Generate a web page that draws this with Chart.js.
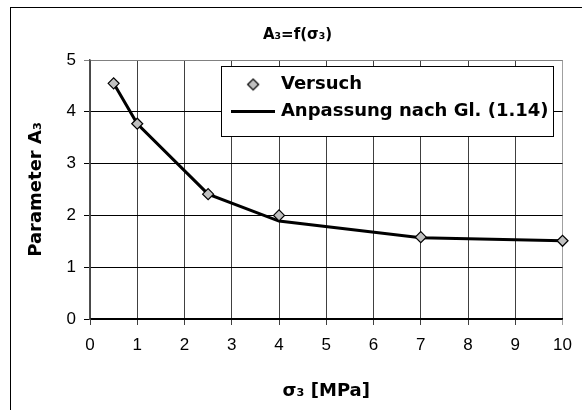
<!DOCTYPE html>
<html>
<head>
<meta charset="utf-8">
<script src="https://cdn.jsdelivr.net/npm/chart.js@4.4.1/dist/chart.umd.min.js"></script>
<style>
    html, body { margin: 0; padding: 0; background: #fff; }
    canvas { display: block; }
</style>
</head>
<body>
<canvas id="A3Chart" width="582" height="410"></canvas>
<script>
// values
const sigma3 = [0.5, 1, 2.5, 4, 7, 10];
const versuch = [4.55, 3.77, 2.41, 2.0, 1.58, 1.51];
const anpassung = [4.55, 3.77, 2.41, 1.89, 1.57, 1.51];
const xTickValues = [0, 1, 2, 3, 4, 5, 6, 7, 8, 9, 10];
const yTickValues = [0, 1, 2, 3, 4, 5];
const seriesNames = ["Versuch", "Anpassung nach Gl. (1.14)"];
const chartTitle = "A₃=f(σ₃)";
const xTitle = "σ₃ [MPa]";
const yTitle = "Parameter A₃";

function toPoints(xs, ys) {
    return xs.map((x, i) => ({ x: x, y: ys[i] }));
}

function iconCanvas(w, h, draw) {
    const c = document.createElement("canvas");
    c.width = w;
    c.height = h;
    draw(c.getContext("2d"), w, h);
    return c;
}

// legend symbols
const diamondIcon = iconCanvas(14, 14, (ctx, w, h) => {
    const r = 5.5;
    ctx.beginPath();
    ctx.moveTo(w / 2 - r, h / 2);
    ctx.lineTo(w / 2, h / 2 - r);
    ctx.lineTo(w / 2 + r, h / 2);
    ctx.lineTo(w / 2, h / 2 + r);
    ctx.closePath();
    ctx.fillStyle = "#c0c0c0";
    ctx.fill();
    ctx.lineWidth = 1.2;
    ctx.strokeStyle = "#000";
    ctx.stroke();
});
const lineIcon = iconCanvas(44, 3, (ctx, w, h) => {
    ctx.fillStyle = "#000";
    ctx.fillRect(0, 0, w, h);
});

const frame = {
    id: "frame",
    beforeDraw(chart) {
        const ctx = chart.ctx;
        ctx.save();
        ctx.fillStyle = "#fff";
        ctx.fillRect(0, 0, chart.width, chart.height);
        ctx.strokeStyle = "#000";
        ctx.lineWidth = 1;
        ctx.strokeRect(10.5, 7.5, chart.width + 20, chart.height + 20);
        ctx.restore();
    },
};

// puts the legend in a boxed panel at the top right of the plot
const legendBox = {
    id: "legendBox",
    afterLayout(chart) {
        const lg = chart.legend;
        const area = chart.chartArea;
        const maxW = Math.max(...lg.legendHitBoxes.map((b) => b.width));
        const boxRight = area.right - 9;
        const boxW = 13 + maxW + 5;
        const boxLeft = boxRight - boxW;
        const boxTop = area.top + 6;
        chart.$legendRect = { left: boxLeft, top: boxTop, width: boxW, height: 70 };
        lg.left = boxLeft + 4.5;
        lg.top = boxTop + 1;
        lg.right = area.right;
        lg.bottom = area.bottom;
    },
    beforeDatasetsDraw(chart) {
        const r = chart.$legendRect;
        const ctx = chart.ctx;
        ctx.save();
        ctx.fillStyle = "#fff";
        ctx.fillRect(r.left, r.top, r.width, r.height);
        ctx.strokeStyle = "#000";
        ctx.lineWidth = 1;
        ctx.strokeRect(Math.round(r.left) + 0.5, Math.round(r.top) + 0.5, Math.round(r.width), Math.round(r.height));
        ctx.restore();
        chart.legend.draw();
    },
};

function A3Chart() {
    const ctx = document.getElementById("A3Chart");

    new Chart(ctx, {
        type: "scatter",
        data: {
            datasets: [
                {
                    label: seriesNames[0],
                    data: toPoints(sigma3, versuch),
                    showLine: false,
                    pointStyle: "rectRot",
                    pointRadius: 5.5,
                    pointBackgroundColor: "#c0c0c0",
                    pointBorderColor: "#000",
                    pointBorderWidth: 1.2,
                    clip: false,
                },
                {
                    label: seriesNames[1],
                    data: toPoints(sigma3, anpassung),
                    showLine: true,
                    borderColor: "#000",
                    backgroundColor: "#000",
                    borderWidth: 3,
                    tension: 0,
                    pointRadius: 0,
                    clip: false,
                },
            ],
        },
        options: {
            responsive: false,
            animation: false,
            devicePixelRatio: 1,
            layout: {
                padding: { left: 27, right: 14, top: 0, bottom: 0 },
            },
            plugins: {
                tooltip: { enabled: false },
                title: {
                    display: true,
                    text: chartTitle,
                    color: "#000",
                    font: { family: "DejaVu Sans", size: 15, weight: "bold", lineHeight: 1.2 },
                    padding: { top: 26, bottom: 16 },
                },
                legend: {
                    position: "chartArea",
                    align: "start",
                    labels: {
                        usePointStyle: true,
                        pointStyleWidth: 37.5,
                        padding: 8.5,
                        color: "#000",
                        font: { family: "DejaVu Sans", size: 18, weight: "bold" },
                        generateLabels: (chart) =>
                            chart.data.datasets.map((ds, i) => ({
                                text: ds.label,
                                pointStyle: i === 0 ? diamondIcon : lineIcon,
                                fillStyle: "#000",
                                strokeStyle: "#000",
                                lineWidth: 0,
                                hidden: false,
                                datasetIndex: i,
                            })),
                    },
                },
            },
            scales: {
                x: {
                    type: "linear",
                    min: 0,
                    max: 10,
                    afterBuildTicks: (s) => {
                        s.ticks = xTickValues.map((v) => ({ value: v }));
                    },
                    afterFit: (s) => {
                        s.height = 91;
                    },
                    grid: {
                        color: (c) => (c.tick && c.tick.value === 10 ? "#a0a0a0" : "#404040"),
                        lineWidth: 1,
                        tickLength: 6,
                    },
                    border: { color: "#000", width: 1.5 },
                    ticks: {
                        color: "#000",
                        padding: 10,
                        autoSkip: false,
                        maxRotation: 0,
                        font: { family: "Liberation Sans", size: 17 },
                    },
                    title: {
                        display: true,
                        text: xTitle,
                        color: "#000",
                        font: { family: "DejaVu Sans", size: 18, weight: "bold", lineHeight: 1 },
                        padding: { top: 0, bottom: 10 },
                    },
                },
                y: {
                    type: "linear",
                    min: 0,
                    max: 5,
                    afterBuildTicks: (s) => {
                        s.ticks = yTickValues.map((v) => ({ value: v }));
                    },
                    afterFit: (s) => {
                        s.width = 63;
                    },
                    grid: {
                        color: (c) => (c.tick && c.tick.value === 5 ? "#808080" : "#000"),
                        lineWidth: 1,
                        tickLength: 6,
                    },
                    border: { color: "#505050", width: 1.5 },
                    ticks: {
                        color: "#000",
                        padding: 8,
                        font: { family: "Liberation Sans", size: 17 },
                    },
                    title: {
                        display: true,
                        text: yTitle,
                        color: "#000",
                        font: { family: "DejaVu Sans", size: 18, weight: "bold", lineHeight: 1 },
                        padding: { top: 0.5, bottom: 0 },
                    },
                },
            },
        },
        plugins: [frame, legendBox],
    });
}

A3Chart();
</script>
</body>
</html>
